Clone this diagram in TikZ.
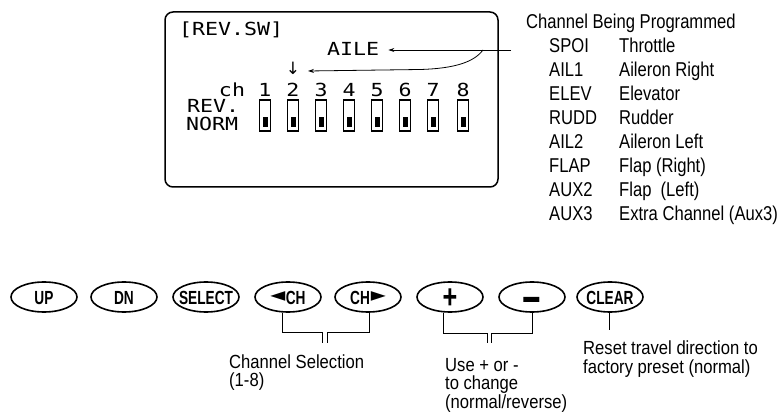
\documentclass[tikz,border=0pt]{standalone}
\usepackage{fontspec}
\usepackage{graphicx}
\usetikzlibrary{arrows.meta,shapes.geometric}
\newfontfamily\condf{Liberation Sans}[FakeStretch=0.83]
\newfontfamily\labf{Liberation Sans}[FakeStretch=0.875]
\newfontfamily\btnf{Liberation Sans}[FakeStretch=0.72]
\newfontfamily\lcdf{DejaVu Sans Mono}[FakeStretch=1.2]
\newfontfamily\symf{DejaVu Sans}
\begin{document}
\begin{tikzpicture}[x=1pt,y=-1pt,
  lcdframe/.style={draw, line width=1.5pt, rounded corners=8pt, inner sep=0pt},
  lcdtext/.style={font=\lcdf\fontsize{18}{18}\selectfont, inner sep=0pt},
  listtext/.style={font=\condf\fontsize{20}{24}\selectfont, inner sep=0pt, anchor=base west},
  labeltext/.style={font=\labf\fontsize{19}{18}\selectfont, inner sep=0pt, anchor=base west},
  button/.style={draw, ellipse, line width=1.6pt, minimum width=66pt, minimum height=30pt, inner sep=0pt, text height=14pt, text depth=0pt, font=\btnf\bfseries\fontsize{19}{19}\selectfont},
  switchbox/.style={draw, line width=1.3pt, minimum width=11pt, minimum height=31pt, inner sep=0pt},
  switchknob/.style={fill=black, minimum width=5pt, minimum height=10pt, inner sep=0pt},
  lead/.style={line width=0.9pt},
  ptr/.style={line width=0.8pt, -{Stealth[length=6pt,width=4pt]}},
]
\useasboundingbox (0,0) rectangle (780,417);

% LCD screen
\node[lcdframe, minimum width=333pt, minimum height=175pt] (lcd) at (331.5,99.5) {};
\node[lcdtext, anchor=base west] (title) at (179,36) {[REV.SW]};
\node[lcdtext, anchor=base west] (aile) at (327,56) {AILE};
\node[lcdtext, anchor=base] (chlbl) at (232,97) {ch};
\node[lcdtext, anchor=base west] (rev) at (187,113) {REV.};
\node[lcdtext, anchor=base west] (norm) at (186,131) {NORM};
\foreach \i/\x in {1/265,2/293,3/321,4/349,5/377,6/405,7/433,8/463} {
  \node[lcdtext, anchor=base] (d\i) at (\x,97) {\i};
  \node[switchbox] (s\i) at (\x,115.5) {};
  \node[switchknob] (k\i) at (\x,122) {};
}
\node[font=\symf\fontsize{17}{17}\selectfont, inner sep=0pt] (darr) at (293,68.5) {↓};

% pointers
\coordinate (tickR) at (511,50);
\coordinate (branch) at (483,50);
\coordinate (lowTip) at (308,71);
\draw[ptr] (tickR) -- ([xshift=9pt]aile.east |- tickR);
\draw[ptr] (branch) .. controls (474,62) and (455,68.5) .. (420,69.5) -- (lowTip);

% channel list
\node[listtext] (hdr) at (526,29) {Channel Being Programmed};
\foreach \n/\a/\b [count=\k] in {1/SPOI/Throttle,2/AIL1/Aileron Right,3/ELEV/Elevator,4/RUDD/Rudder,5/AIL2/Aileron Left,6/FLAP/Flap (Right),7/AUX2/Flap\ \ (Left),8/AUX3/Extra Channel (Aux3)} {
  \node[listtext] (c\n) at (549,29+24*\k) {\a};
  \node[listtext] (f\n) at (619,29+24*\k) {\b};
}

% buttons
\node[button] (up) at (44,297) {\makebox[0pt]{UP}};
\node[button] (dn) at (124,297) {\makebox[0pt]{DN}};
\node[button] (sel) at (206,297) {\makebox[0pt]{SELECT}};
\node[button] (chl) at (288,297) {\makebox[0pt]{\raisebox{2.3pt}{\symf\fontsize{19.5}{19.5}\selectfont ◄}\kern0.5pt CH}};
\node[button] (chr) at (368,297) {\makebox[0pt]{CH\kern1pt\raisebox{2.3pt}{\symf\fontsize{19.5}{19.5}\selectfont ►}}};
\node[button] (plus) at (450,297) {\makebox[0pt]{\fontsize{28}{28}\selectfont\raisebox{-4.8pt}{\scalebox{1.25}[1.2]{+}}}};
\node[button] (minus) at (532,297) {\makebox[0pt]{\fontsize{26}{26}\selectfont\raisebox{-11.3pt}{\scalebox{1.7}[1.8]{−}}}};
\node[button] (clr) at (610,297) {\makebox[0pt]{CLEAR}};

% leads
\coordinate (b1a) at (322,332);
\coordinate (b1b) at (327,332);
\coordinate (b1c) at (322,343);
\coordinate (b1d) at (327,343);
\draw[lead] ([xshift=-6pt]chl.south) |- (b1a) -- (b1c);
\draw[lead] ([xshift=1pt]chr.south) |- (b1b) -- (b1d);
\coordinate (b2a) at (487,333);
\coordinate (b2b) at (491,333);
\coordinate (b2c) at (487,343);
\coordinate (b2d) at (491,343);
\draw[lead] ([xshift=-7pt]plus.south) |- (b2a) -- (b2c);
\draw[lead] (minus.south) |- (b2b) -- (b2d);
\coordinate (clrEnd) at (609,330);
\draw[lead] ([xshift=-1pt]clr.south) -- (clrEnd);

% labels
\node[labeltext] (cs1) at (229,368) {Channel Selection};
\node[labeltext] (cs2) at (229,386.5) {(1-8)};
\node[labeltext] (us1) at (445,371) {Use + or -};
\node[labeltext] (us2) at (445,389.5) {to change};
\node[labeltext] (us3) at (445,408) {(normal/reverse)};
\node[labeltext] (rs1) at (583,354.5) {Reset travel direction to};
\node[labeltext] (rs2) at (583,373) {factory preset (normal)};
\end{tikzpicture}
\end{document}
